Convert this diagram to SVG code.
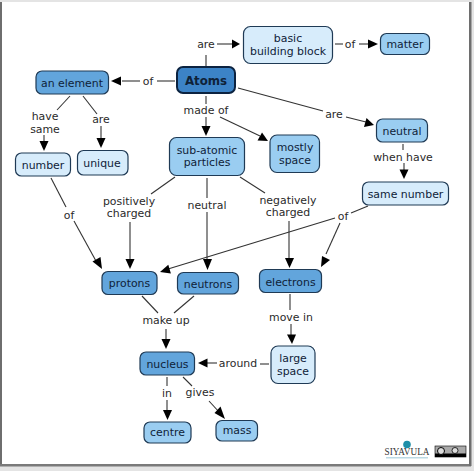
<svg xmlns="http://www.w3.org/2000/svg" width="474" height="471" viewBox="0 0 474 471">
<style>
text{font-family:"DejaVu Sans","Liberation Sans",sans-serif;font-size:10.900px;text-anchor:middle;fill:#2a2a2a}
.n text{fill:#0f2238;font-size:10.900px}
rect{stroke:#1f3a55;stroke-width:1.2}
.d{fill:#62a5dc}.m{fill:#9acdf1}.l{fill:#d7ecfb}
.c line{stroke:#333;stroke-width:1.1}
.c path{fill:#000;stroke:none}
</style>
<rect x="0" y="0" width="474" height="471" fill="#e4e4e4" style="stroke:none"/>
<rect x="1" y="2" width="470" height="464" fill="#fff" style="stroke:none"/>
<rect x="0" y="2" width="2" height="463" fill="#6e6e6e" style="stroke:none"/>
<rect x="0" y="464" width="471" height="2.500" fill="#7a7a7a" style="stroke:none"/>
<rect x="469" y="2" width="2.500" height="464" fill="#6e6e6e" style="stroke:none"/>
<g class="c" id="connectors">
<line x1="206" y1="66" x2="206" y2="55"/><line x1="217" y1="44" x2="233" y2="44"/><path d="M240 44L232 39.500V48.500Z"/>
<line x1="335" y1="44" x2="343" y2="44"/><line x1="359" y1="44" x2="369" y2="44"/><path d="M378 44L368 39.500V48.500Z"/>
<line x1="175" y1="81" x2="157" y2="81"/><line x1="140" y1="81" x2="122" y2="81"/><path d="M111 81L121 76.500V85.500Z"/>
<line x1="70" y1="96" x2="57" y2="110"/><line x1="83" y1="96" x2="97" y2="114"/>
<line x1="44" y1="135" x2="44" y2="141"/><path d="M44 151L39.500 141H48.500Z"/>
<line x1="101" y1="126" x2="101" y2="138"/><path d="M101 148L96.500 138H105.500Z"/>
<line x1="51" y1="178" x2="66" y2="207"/><line x1="74" y1="221" x2="96" y2="261"/><path d="M102 269L92.500 261.500L100.500 257Z"/>
<line x1="206" y1="96" x2="206" y2="104"/><line x1="206" y1="117" x2="206" y2="127"/><path d="M206 136L201.500 126H210.500Z"/>
<line x1="220" y1="117" x2="260" y2="136"/><path d="M268 141L257.500 140.500L262 132.500Z"/>
<line x1="238" y1="88" x2="323" y2="111"/><line x1="346" y1="117" x2="366" y2="122"/><path d="M374 125L364 127L366.500 118Z"/>
<line x1="403" y1="144" x2="403" y2="150"/><line x1="404" y1="163" x2="404" y2="170"/><path d="M404 179L399.500 169.500H408.500Z"/>
<line x1="175" y1="177" x2="151" y2="194"/><line x1="130" y1="222" x2="130" y2="261"/><path d="M130 269L125.500 259H134.500Z"/>
<line x1="207" y1="178" x2="207" y2="198"/><line x1="207" y1="212" x2="207" y2="260"/><path d="M207.500 270L203 259H212Z"/>
<line x1="240" y1="177" x2="265" y2="193"/><line x1="289" y1="221" x2="289" y2="260"/><path d="M289.500 268L285 258H294Z"/>
<line x1="368" y1="206" x2="351" y2="213"/><line x1="335" y1="218" x2="168" y2="269"/><path d="M160 272L168.300 264.800L170.900 273.400Z"/>
<line x1="340" y1="223" x2="326" y2="254"/><path d="M321 267L322 256L330 260Z"/>
<line x1="142" y1="296" x2="158" y2="313"/><line x1="194" y1="296" x2="174" y2="313"/><line x1="166" y1="329" x2="166" y2="341"/><path d="M166 349L161.500 339H170.500Z"/>
<line x1="290" y1="294" x2="290" y2="310"/><line x1="291" y1="324" x2="291" y2="336"/><path d="M292 344L287 334.500H296Z"/>
<line x1="269" y1="364" x2="260" y2="364"/><line x1="217" y1="363" x2="206" y2="363"/><path d="M198 363L207.500 358.500V367.500Z"/>
<line x1="167" y1="377" x2="167" y2="386"/><line x1="167" y1="400" x2="167" y2="414"/><path d="M167.500 420L163 410H172Z"/>
<line x1="183" y1="377" x2="192" y2="386"/><line x1="209" y1="401" x2="220" y2="413"/><path d="M225 419L214.500 413L220.500 406.500Z"/>
</g>
<g id="labels"><text x="206" y="48">are</text><text x="350" y="48">of</text><text x="148" y="85">of</text><text x="45" y="120">have</text><text x="45" y="133">same</text><text x="101" y="123">are</text><text x="69" y="219">of</text><text x="206" y="114">made of</text><text x="334" y="118">are</text><text x="403" y="161">when have</text><text x="129" y="205">positively</text><text x="129" y="217">charged</text><text x="207" y="209">neutral</text><text x="288" y="204">negatively</text><text x="288" y="216">charged</text><text x="343" y="220">of</text><text x="166" y="324">make up</text><text x="291" y="321">move in</text><text x="238" y="367">around</text><text x="167" y="397">in</text><text x="200" y="396">gives</text></g>
<g class="n">
<g id="atoms"><rect x="177" y="67" width="58" height="26" rx="6" fill="#3c83c6" style="stroke:#0c2340;stroke-width:2"/><text x="206" y="85" style="font-weight:bold;font-size:11.800px">Atoms</text></g>
<g id="basic"><rect x="243.500" y="26.500" width="89" height="37" rx="7" class="l"/><text x="288" y="42">basic</text><text x="288" y="55">building block</text></g>
<g id="matter"><rect x="380.500" y="33.500" width="49" height="21" rx="6" class="m"/><text x="405" y="48">matter</text></g>
<g id="element"><rect x="36" y="71" width="72.500" height="23" rx="6" class="d"/><text x="72" y="87">an element</text></g>
<g id="number"><rect x="15.500" y="153" width="55" height="23" rx="6" class="l"/><text x="43" y="169">number</text></g>
<g id="unique"><rect x="77.500" y="150.500" width="50.500" height="24.500" rx="6" class="l"/><text x="102" y="167">unique</text></g>
<g id="sub"><rect x="169.500" y="137.500" width="75" height="38" rx="7" class="m"/><text x="207" y="154">sub-atomic</text><text x="207" y="166">particles</text></g>
<g id="mostly"><rect x="270" y="135" width="49.500" height="37.500" rx="7" class="m"/><text x="295" y="151">mostly</text><text x="295" y="164">space</text></g>
<g id="neutral"><rect x="376.500" y="119" width="51" height="23" rx="6" class="m"/><text x="402" y="135">neutral</text></g>
<g id="same"><rect x="362.500" y="182" width="86" height="23" rx="6" class="l"/><text x="405.500" y="198">same number</text></g>
<g id="protons"><rect x="102" y="271.500" width="55" height="23" rx="6" class="d"/><text x="129.500" y="287">protons</text></g>
<g id="neutrons"><rect x="177.500" y="272.500" width="61" height="21.500" rx="6" class="d"/><text x="208" y="288">neutrons</text></g>
<g id="electrons"><rect x="259.500" y="269.500" width="62" height="23" rx="6" class="d"/><text x="290.500" y="286">electrons</text></g>
<g id="large"><rect x="271" y="346" width="44" height="37.500" rx="7" class="l"/><text x="293" y="362">large</text><text x="293" y="375">space</text></g>
<g id="nucleus"><rect x="140" y="352" width="54.500" height="23" rx="6" class="d"/><text x="167.500" y="368">nucleus</text></g>
<g id="centre"><rect x="144" y="422" width="47" height="21" rx="6" class="m"/><text x="167.500" y="436">centre</text></g>
<g id="mass"><rect x="216" y="420.500" width="41.500" height="20.500" rx="6" class="m"/><text x="237" y="434">mass</text></g>
</g>
<circle cx="407" cy="444.500" r="3.800" fill="#1f8fa8"/>
<text x="407" y="455" textLength="45" lengthAdjust="spacingAndGlyphs" style="font-family:'Liberation Serif',serif;font-size:10px;fill:#333">SIYAVULA</text>
<rect x="386" y="457" width="42" height="1.500" fill="#bcd9e4" style="stroke:none"/>
<rect x="435" y="446" width="31" height="11" fill="#aaa" style="stroke:#000;stroke-width:.6"/>
<rect x="435" y="453.500" width="31" height="3.500" fill="#000" style="stroke:none"/>
<circle cx="441" cy="451" r="3.500" fill="#ddd" style="stroke:#000;stroke-width:1"/>
<circle cx="455" cy="450.500" r="3" fill="#ddd" style="stroke:#000;stroke-width:.8"/>
</svg>
